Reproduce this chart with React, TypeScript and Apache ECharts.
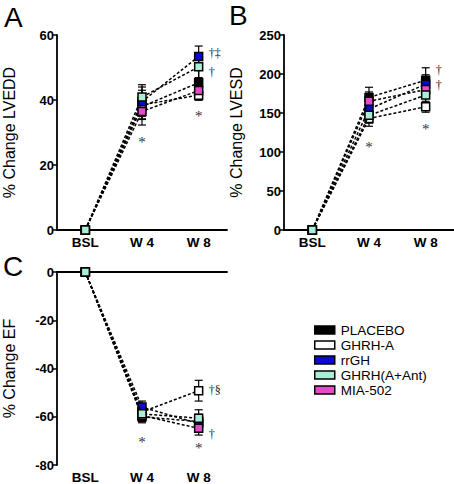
import React, { useEffect, useRef } from 'react';
import * as echarts from 'echarts';

const categories = ['BSL', 'W 4', 'W 8'];
const groups = ['PLACEBO', 'GHRH-A', 'rrGH', 'GHRH(A+Ant)', 'MIA-502'];

// % Change LVEDD (rows follow groups)
const lveddMean = [
  [0, 38.0, 45.3],
  [0, 38.5, 41.5],
  [0, 39.5, 53.4],
  [0, 40.9, 50.2],
  [0, 36.5, 42.9],
];
const lveddSem = [
  [0, 3.8, 3.8],
  [0, 4.5, 1.6],
  [0, 4.5, 3.2],
  [0, 3.8, 3.3],
  [0, 4.2, 2.6],
];
// % Change LVESD
const lvesdMean = [
  [0, 170, 192],
  [0, 143, 158],
  [0, 155, 187],
  [0, 147, 173],
  [0, 165, 180],
];
const lvesdSem = [
  [0, 13, 16],
  [0, 10, 7],
  [0, 12, 12],
  [0, 10, 10],
  [0, 12, 10],
];
// % Change EF
const efMean = [
  [0, -60.0, -62.0],
  [0, -58.0, -49.2],
  [0, -56.0, -62.8],
  [0, -58.8, -60.6],
  [0, -59.5, -64.8],
];
const efSem = [
  [0, 2.5, 3.0],
  [0, 3.0, 4.3],
  [0, 2.5, 3.0],
  [0, 2.5, 3.5],
  [0, 2.5, 2.8],
];

// significance marks: [category index, value, text]
const lveddStars: [number, number, string][] = [[1, 27, '*'], [2, 35, '*']];
const lveddDaggers: [number, number, string][] = [[2, 54.5, '†‡'], [2, 48.5, '†']];
const lvesdStars: [number, number, string][] = [[1, 106, '*'], [2, 130, '*']];
const lvesdDaggers: [number, number, string][] = [[2, 205, '†'], [2, 186, '†']];
const efStars: [number, number, string][] = [[1, -70.5, '*'], [2, -73, '*']];
const efDaggers: [number, number, string][] = [[2, -49, '†§'], [2, -67, '†']];

const yTitles = ['% Change LVEDD', '% Change LVESD', '% Change EF'];
const yMin = [0, 0, -80];
const yMax = [60, 250, 0];
const yStep = [20, 50, 20];
const panelLetters = ['A', 'B', 'C'];

const colors = ['#000000', '#ffffff', '#0a0ad2', '#aaeed8', '#e64ac6'];
const drawOrder = [0, 1, 2, 4, 3];
const SANS = '"Liberation Sans", Arial, sans-serif';
const SERIF = '"Liberation Serif", "Times New Roman", serif';

export default function App() {
  const ref = useRef<HTMLDivElement>(null);
  useEffect(() => {
    if (!ref.current) return;
    const chart = echarts.init(ref.current, undefined, { renderer: 'svg' });
    const grids = [
      { left: 57, top: 35, width: 170, height: 195 },
      { left: 284, top: 35, width: 170, height: 195 },
      { left: 57, top: 272, width: 170, height: 195 },
    ];
    const means = [lveddMean, lvesdMean, efMean];
    const sems = [lveddSem, lvesdSem, efSem];
    const stars = [lveddStars, lvesdStars, efStars];
    const daggers = [lveddDaggers, lvesdDaggers, efDaggers];

    const xAxis = grids.map((_, i) => ({
      type: 'category',
      gridIndex: i,
      data: categories,
      boundaryGap: true,
      axisLine: { lineStyle: { color: '#000', width: 1.8 } },
      axisTick: { alignWithLabel: true, length: 4, lineStyle: { color: '#000', width: 1.5 } },
      axisLabel: { color: '#000', fontWeight: 'bold', fontSize: 13.5, fontFamily: SANS, margin: 5 },
    }));
    const yAxis = grids.map((_, i) => ({
      type: 'value',
      gridIndex: i,
      min: yMin[i],
      max: yMax[i],
      interval: yStep[i],
      name: yTitles[i],
      nameLocation: 'middle',
      nameGap: 40,
      nameTextStyle: { color: '#000', fontSize: 16, fontFamily: SANS },
      axisLine: { show: true, lineStyle: { color: '#000', width: 1.8 } },
      axisTick: { show: true, length: 5, lineStyle: { color: '#000', width: 1.5 } },
      axisLabel: { color: '#000', fontWeight: 'bold', fontSize: 13, fontFamily: SANS, margin: 3 },
      splitLine: { show: false },
    }));

    const markSeries = (gi: number, data: any[], dx: number, align: string, size: number, fill: string) => ({
      type: 'custom',
      xAxisIndex: gi,
      yAxisIndex: gi,
      z: 10,
      silent: true,
      data,
      renderItem: (_p: any, api: any) => {
        const pt = api.coord([api.value(0), api.value(1)]);
        return {
          type: 'text',
          x: pt[0] + dx,
          y: pt[1],
          style: {
            text: data[_p.dataIndex][2],
            fill,
            fontSize: size,
            fontFamily: SERIF,
            align,
            verticalAlign: 'middle',
          },
        };
      },
    });

    const series: any[] = [];
    grids.forEach((_, gi) => {
      const errData: number[][] = [];
      drawOrder.forEach((k) => {
        means[gi][k].forEach((m, ci) => {
          const s = sems[gi][k][ci];
          if (s > 0) errData.push([ci, m - s, m + s]);
        });
      });
      series.push({
        type: 'custom',
        xAxisIndex: gi,
        yAxisIndex: gi,
        z: 1,
        silent: true,
        data: errData,
        renderItem: (_p: any, api: any) => {
          const lo = api.coord([api.value(0), api.value(1)]);
          const hi = api.coord([api.value(0), api.value(2)]);
          const w = 4;
          const st = { stroke: '#000', lineWidth: 1.2 };
          return {
            type: 'group',
            children: [
              { type: 'line', shape: { x1: lo[0], y1: lo[1], x2: hi[0], y2: hi[1] }, style: st },
              { type: 'line', shape: { x1: lo[0] - w, y1: lo[1], x2: lo[0] + w, y2: lo[1] }, style: st },
              { type: 'line', shape: { x1: hi[0] - w, y1: hi[1], x2: hi[0] + w, y2: hi[1] }, style: st },
            ],
          };
        },
      });
      drawOrder.forEach((k, oi) => {
        series.push({
          type: 'line',
          name: groups[k],
          xAxisIndex: gi,
          yAxisIndex: gi,
          z: 3 + oi,
          data: means[gi][k],
          symbol: 'rect',
          symbolSize: 8,
          showSymbol: true,
          itemStyle: { color: colors[k], borderColor: '#000', borderWidth: 1.5 },
          lineStyle: { color: '#000', width: 1.5, type: [3, 2] },
        });
      });
      series.push(markSeries(gi, stars[gi], 0, 'center', 15, '#333'));
      series.push(markSeries(gi, daggers[gi], 10, 'left', 12, '#222'));
    });

    const option: any = {
      animation: false,
      backgroundColor: '#fff',
      grid: grids,
      xAxis,
      yAxis,
      series,
      legend: {
        orient: 'vertical',
        left: 309,
        top: 318,
        itemWidth: 20,
        itemHeight: 8,
        itemGap: 1,
        icon: 'rect',
        selectedMode: false,
        textStyle: { color: '#000', fontSize: 13.5, fontFamily: SANS, padding: [0, 0, 0, 1] },
        data: groups.map((g, k) => ({
          name: g,
          itemStyle: { color: colors[k], borderColor: '#000', borderWidth: 1.5 },
        })),
      },
      graphic: [
        { type: 'text', left: 4, top: 3, style: { text: panelLetters[0], fontSize: 28, fontFamily: SANS, fill: '#000' } },
        { type: 'text', left: 229, top: 1, style: { text: panelLetters[1], fontSize: 28, fontFamily: SANS, fill: '#000' } },
        { type: 'text', left: 3, top: 252, style: { text: panelLetters[2], fontSize: 28, fontFamily: SANS, fill: '#000' } },
      ],
    };
    chart.setOption(option);
    return () => chart.dispose();
  }, []);
  return <div ref={ref} style={{ position: 'absolute', left: 0, top: 0, width: 454, height: 484 }} />;
}
